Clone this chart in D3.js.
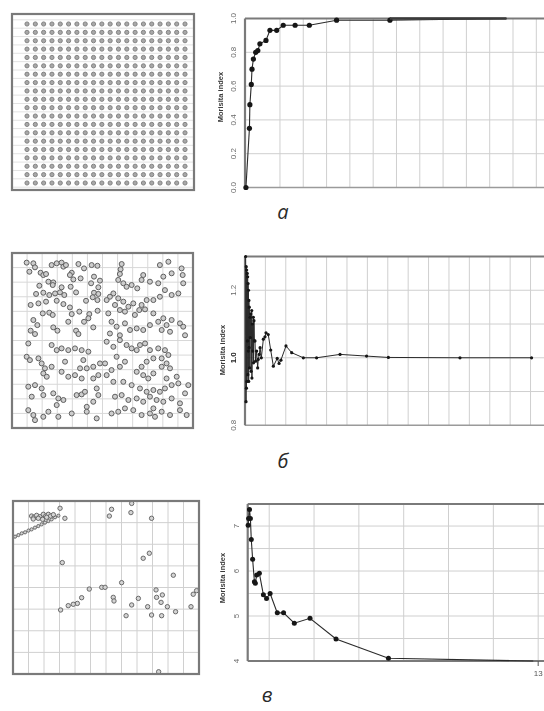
<!DOCTYPE html>
<html><head><meta charset="utf-8">
<script src="https://cdn.jsdelivr.net/npm/d3@7"></script>
<style>body{margin:0;background:#fff}svg{display:block}</style>
</head><body>
<svg id="c" width="544" height="711"></svg>
<script>
// ---------- DATA ----------
// a) regular lattice (column / row indices)
const latticeCols = d3.range(1, 21);
const latticeRows = d3.range(1, 21);
// a) Morisita index curve
const morisitaAX = [0.04,0.19,0.21,0.27,0.30,0.36,0.46,0.55,0.64,0.90,1.07,1.36,1.64,2.15,2.76,3.93,6.22,11.22];
const morisitaAY = [0.00,0.35,0.49,0.61,0.70,0.76,0.80,0.81,0.85,0.87,0.93,0.93,0.96,0.96,0.96,0.99,0.99,1.00];
// b) random pattern points (field units 0..100)
const randomPoints = [
[8.1,5.5],[11.8,5.9],[12.7,8.2],[21.9,6.9],[24.7,5.9],[27.4,5.5],[28.4,7.8],[29.8,6.9],[33.0,11.3],[36.7,6.3],[39.8,8.8],[44.0,6.9],[47.2,7.3],[9.6,10.7],[15.8,11.3],[17.3,12.6],[18.8,12.0],[20.1,16.4],[22.8,16.8],[32.0,12.6],[33.9,15.1],[37.9,14.5],[45.3,13.5],[48.6,15.8],[15.1,18.7],[22.5,18.3],[27.4,19.6],[32.4,19.3],[43.7,17.3],[47.7,19.6],[13.3,23.4],[17.3,22.7],[20.6,24.0],[23.8,23.1],[26.5,22.5],[28.9,24.0],[35.4,22.5],[45.3,22.7],[47.7,23.4],[10.3,29.7],[14.6,28.8],[18.8,27.8],[24.7,27.3],[28.4,29.2],[32.0,31.1],[40.9,27.3],[44.6,25.3],[47.2,26.9],[17.0,34.5],[20.6,34.1],[22.5,35.4],[33.0,34.9],[37.2,33.5],[42.7,34.9],[47.3,33.0],[11.8,38.3],[14.0,41.2],[10.3,44.4],[12.7,46.3],[22.8,42.5],[25.1,44.4],[31.1,39.3],[35.4,44.4],[39.8,39.3],[42.2,37.3],[44.9,42.5],[36.7,46.3],
[60.6,6.3],[60.0,9.3],[59.6,12.0],[58.7,15.4],[61.5,17.3],[63.3,19.3],[66.1,18.3],[69.2,20.2],[71.6,15.4],[72.5,12.6],[76.2,16.4],[80.8,17.3],[81.7,6.9],[86.4,5.0],[83.6,13.5],[88.2,11.6],[93.7,8.8],[94.3,12.6],[94.6,17.3],[91.9,23.1],[88.2,24.0],[84.5,21.2],[81.7,25.0],[78.1,26.9],[74.4,26.9],[71.6,29.7],[70.3,32.6],[67.0,28.8],[64.3,30.7],[61.5,27.8],[58.7,25.9],[56.0,23.1],[54.1,25.0],[52.3,26.9],[56.9,29.7],[59.6,32.6],[62.4,33.5],[67.9,35.4],[73.5,32.2],[78.1,34.5],[80.8,39.3],[83.6,37.3],[85.4,41.2],[88.2,38.3],[92.8,40.2],[94.6,42.1],[76.2,41.2],[72.5,44.0],[68.9,43.1],[65.2,44.0],[62.4,40.2],[57.8,42.1],[55.0,39.3],[53.2,34.5],[54.1,46.0],[59.6,47.0],[82.7,44.0],[87.3,45.0],[95.6,47.0],
[9.0,51.7],[8.1,59.3],[9.9,61.2],[14.6,60.2],[16.4,63.1],[18.2,65.9],[17.3,68.8],[19.2,70.7],[21.9,65.0],[24.7,55.5],[27.4,54.5],[31.1,55.5],[34.8,54.5],[38.5,55.5],[42.2,56.4],[39.4,61.2],[37.6,65.9],[41.3,65.9],[44.9,65.0],[48.6,63.1],[29.3,62.1],[27.4,67.9],[31.1,70.7],[34.8,69.8],[38.5,71.7],[44.9,71.7],[47.7,69.8],[9.0,76.4],[12.7,75.5],[16.4,77.4],[10.9,82.1],[17.3,81.2],[22.8,80.2],[25.6,83.1],[28.4,84.0],[24.7,86.9],[35.7,81.2],[38.5,80.8],[40.3,79.3],[46.8,77.4],[47.7,81.2],[44.9,85.0],[9.0,89.8],[11.8,92.6],[12.7,95.5],[17.3,93.6],[20.1,90.7],[25.6,93.6],[33.0,91.7],[41.3,87.9],[41.3,90.7],[46.8,94.5],[21.9,52.6],
[52.3,50.7],[56.0,53.6],[59.6,49.8],[63.3,52.6],[66.1,54.5],[68.9,55.5],[70.7,52.6],[73.5,51.7],[76.2,55.5],[80.8,54.5],[84.5,55.5],[86.4,58.3],[82.7,60.2],[78.1,60.2],[74.4,62.1],[71.6,65.0],[68.9,67.9],[72.5,69.8],[75.3,71.7],[78.1,68.8],[82.7,65.0],[85.4,63.1],[87.3,65.9],[85.4,71.7],[91.0,70.7],[91.9,74.5],[88.2,75.5],[84.5,77.4],[81.7,79.3],[78.1,78.3],[74.4,79.3],[70.7,77.4],[66.1,75.5],[61.5,73.6],[56.0,73.6],[52.3,69.8],[55.0,66.9],[59.6,65.0],[62.4,62.1],[57.8,59.3],[51.4,63.1],[56.9,82.1],[60.6,81.2],[64.3,84.0],[68.9,83.1],[72.5,85.0],[76.2,82.1],[79.9,84.0],[83.6,85.0],[88.2,83.1],[92.8,85.9],[95.6,80.2],[97.4,75.5],[55.0,91.7],[58.7,90.7],[62.4,88.8],[67.0,89.8],[71.6,92.6],[76.2,91.7],[78.1,88.8],[79.0,93.6],[82.7,90.7],[87.3,92.6],[92.8,89.8],[96.5,92.6]
];
// b) Morisita index curve
const morisitaBX = [0.03,0.05,0.06,0.07,0.08,0.10,0.11,0.12,0.13,0.14,0.15,0.16,0.17,0.18,0.19,0.20,0.21,0.23,0.25,0.26,0.28,0.30,0.33,0.34,0.36,0.38,0.41,0.42,0.44,0.46,0.49,0.52,0.57,0.62,0.65,0.70,0.74,0.80,0.90,0.98,1.03,1.14,1.26,1.39,1.58,1.67,1.76,2.01,2.29,2.86,3.51,4.66,5.96,7.03,10.54,14.05];
const morisitaBY = [1.30,0.87,1.27,0.91,1.26,0.93,1.25,1.05,1.24,0.95,1.22,1.02,1.20,0.93,1.17,1.03,1.15,0.97,1.12,1.06,1.13,0.96,1.14,0.94,1.10,1.02,1.12,0.985,1.11,1.05,1.05,0.99,1.02,0.97,0.995,1.01,1.03,1.00,1.055,1.062,1.074,1.069,1.023,0.975,0.998,0.983,0.993,1.035,1.015,1.0,1.0,1.01,1.005,1.001,1.0,1.0];
// c) clustered pattern points (field units 0..100); first 14 form the thin diagonal trail
const clusterPoints = [
[1.1,20.6],[2.9,19.7],[4.7,18.7],[6.5,18.1],[8.3,17.1],[10.0,16.4],[11.8,15.4],[13.6,14.5],[15.4,13.5],[17.2,12.5],[19.0,11.6],[20.8,10.6],[22.6,9.4],[24.4,8.5],
[10.0,8.7],[11.3,9.4],[12.7,8.3],[14.5,9.1],[16.3,7.7],[17.6,8.7],[19.0,7.7],[20.2,8.7],[21.7,7.9],[10.9,10.4],[13.6,10.0],[18.1,9.4],[15.9,10.6],
[25.3,4.2],[27.9,10.0],[53.0,4.8],[51.8,8.7],[63.8,1.4],[63.4,6.7],[74.5,10.0],[70.0,33.1],[73.3,30.2],[26.5,35.6],[86.2,42.9],[58.4,47.2],[41.0,50.9],[47.7,49.9],[49.5,49.9],[36.9,55.9],[34.6,59.2],[32.4,59.7],[29.7,60.5],[25.6,63.0],[53.9,55.7],[54.3,57.8],[67.4,56.3],[63.8,60.1],[60.8,66.3],[72.4,61.1],[74.5,65.9],[76.9,51.4],[77.2,55.7],[80.3,54.3],[79.6,58.6],[83.0,61.1],[79.9,66.3],[87.4,64.0],[95.7,61.1],[96.9,53.9],[98.7,51.8],[78.3,98.7]
];
// c) Morisita index curve
const morisitaCX = [6.53,6.54,6.56,6.58,6.60,6.63,6.67,6.69,6.72,6.78,6.87,6.94,7.02,7.18,7.32,7.56,7.91,8.49,9.66,12.89];
const morisitaCY = [7.02,7.17,7.37,7.17,6.70,6.26,5.76,5.73,5.91,5.95,5.47,5.39,5.50,5.07,5.07,4.84,4.95,4.49,4.06,4.00];
// tick labels
const ticksA = [0,0.2,0.4,0.6,0.8,1.0];
const ticksB = [0.8,1.0,1.2];
const ticksC = [4,5,6,7];
const panelLetters = ["а","б","в"];
const yTitle = "Morisita index";

// ---------- DRAW ----------
const svg = d3.select("#c");
const defs = svg.append("defs");
defs.append("filter").attr("id","soft").attr("x","-5%").attr("y","-5%").attr("width","110%").attr("height","110%")
  .append("feGaussianBlur").attr("stdDeviation",0.45);
const root = svg.append("g").attr("filter","url(#soft)");

const GRID = "#cfcfcf", FRAME = "#7a7a7a";

function fieldPanel(box, xs, ys, vg, hg, pts, style){
  const g = root.append("g");
  g.selectAll(".vg").data(vg).join("line")
    .attr("x1",d=>xs(d)).attr("x2",d=>xs(d)).attr("y1",box[1]).attr("y2",box[3])
    .attr("stroke",style.grid).attr("stroke-width",1);
  g.selectAll(".hg").data(hg).join("line")
    .attr("y1",d=>ys(d)).attr("y2",d=>ys(d)).attr("x1",box[0]).attr("x2",box[2])
    .attr("stroke",style.grid).attr("stroke-width",1);
  g.selectAll("circle").data(pts).join("circle")
    .attr("cx",d=>xs(d[0])).attr("cy",d=>ys(d[1])).attr("r",(d,i)=>typeof style.r==="function"?style.r(i):style.r)
    .attr("fill",style.fill).attr("stroke",style.stroke).attr("stroke-width",style.sw);
  g.append("rect").attr("x",box[0]).attr("y",box[1]).attr("width",box[2]-box[0]).attr("height",box[3]-box[1])
    .attr("fill","none").attr("stroke",FRAME).attr("stroke-width",2.2);
}

// a) lattice
{
  const box=[12,14,194,190];
  const xs=d3.scaleLinear().domain([1,20]).range([27,185]);
  const ys=d3.scaleLinear().domain([1,20]).range([24,183]);
  const pts=[]; latticeRows.forEach(r=>latticeCols.forEach(c=>pts.push([c,r])));
  fieldPanel(box,xs,ys,[],d3.range(0.5,21,1).filter(v=>ys(v)>box[1]&&ys(v)<box[3]),pts,
    {grid:"#e2e2e2",r:2.1,fill:"#a8a8a8",stroke:"#7c7c7c",sw:0.9});
}
// b) random
{
  const box=[12,253,193,428];
  const xs=d3.scaleLinear().domain([0,100]).range([box[0],box[2]]);
  const ys=d3.scaleLinear().domain([0,100]).range([box[1],box[3]]);
  const div=d3.range(1,12).map(i=>i*100/12);
  fieldPanel(box,xs,ys,div,div,randomPoints,{grid:"#d8d8d8",r:2.5,fill:"#cdcdcd",stroke:"#5e5e5e",sw:1});
}
// c) clustered
{
  const box=[13,501,199,674];
  const xs=d3.scaleLinear().domain([0,100]).range([box[0],box[2]]);
  const ys=d3.scaleLinear().domain([0,100]).range([box[1],box[3]]);
  fieldPanel(box,xs,ys,d3.range(1,12).map(i=>i*100/12),d3.range(1,8).map(i=>i*100/8),clusterPoints,
    {grid:"#d0d0d0",r:i=>i<14?1.6:2.2,fill:"#d4d4d4",stroke:"#5e5e5e",sw:0.9});
}

function morisita(cfg){
  const g = root.append("g");
  const xs=d3.scaleLinear().domain(cfg.xd).range([cfg.x0,544]);
  const ys=d3.scaleLinear().domain(cfg.yd).range([cfg.y0,cfg.y1]);
  g.selectAll(".vg").data(cfg.vg).join("line")
    .attr("x1",d=>xs(d)).attr("x2",d=>xs(d)).attr("y1",cfg.y0).attr("y2",cfg.y1)
    .attr("stroke",GRID).attr("stroke-width",1);
  g.selectAll(".hg").data(cfg.hg).join("line")
    .attr("y1",d=>ys(d)).attr("y2",d=>ys(d)).attr("x1",cfg.x0).attr("x2",544)
    .attr("stroke",GRID).attr("stroke-width",1);
  g.append("line").attr("x1",cfg.x0).attr("x2",544).attr("y1",cfg.y1).attr("y2",cfg.y1).attr("stroke",FRAME).attr("stroke-width",2.2);
  g.append("line").attr("x1",cfg.x0).attr("x2",544).attr("y1",cfg.y0).attr("y2",cfg.y0).attr("stroke",cfg.bottomColor).attr("stroke-width",cfg.bottomW);
  g.append("line").attr("x1",cfg.x0).attr("x2",cfg.x0).attr("y1",cfg.y1).attr("y2",cfg.y0).attr("stroke",FRAME).attr("stroke-width",2.2);
  g.selectAll(".tl").data(cfg.ticks).join("text")
    .attr("transform",d=>`translate(${cfg.x0-9},${ys(d)}) rotate(-90)`)
    .attr("text-anchor","middle").attr("font-family","Liberation Sans, Arial, sans-serif")
    .attr("font-size",8).attr("fill",d=>cfg.strong===d?"#222":"#6a6a6a")
    .attr("font-weight",d=>cfg.strong===d?"bold":"normal").text(cfg.fmt);
  g.append("text").attr("transform",`translate(${cfg.tx},${cfg.ty}) rotate(-90)`)
    .attr("text-anchor","middle").attr("font-family","Liberation Sans, Arial, sans-serif")
    .attr("font-weight","bold").attr("font-size",7.5).attr("fill","#3a3a3a").text(yTitle);
  const pts=cfg.X.map((x,i)=>[x,cfg.Y[i]]);
  g.append("path").datum(pts).attr("fill","none").attr("stroke","#2a2a2a").attr("stroke-width",cfg.lw||1.1)
    .attr("d",d3.line().x(d=>xs(d[0])).y(d=>ys(d[1])));
  g.selectAll(".pt").data(pts.slice(0,cfg.marked)).join("circle")
    .attr("cx",d=>xs(d[0])).attr("cy",d=>ys(d[1])).attr("r",cfg.r).attr("fill","#151515");
  return {g,xs,ys};
}

// a
{
  const m = morisita({xd:[0,12.83],yd:[0,1],x0:245,y0:187.5,y1:18.5,vg:d3.range(1.5,13,1),hg:[0.2,0.4,0.6,0.8],
    ticks:ticksA,fmt:d3.format(".1f"),tx:223,ty:97,X:morisitaAX,Y:morisitaAY,marked:morisitaAX.length-1,r:2.6,
    bottomColor:"#9a9a9a",bottomW:1.5});
  const n=morisitaAX.length;
  m.g.append("line").attr("x1",m.xs(morisitaAX[n-2])).attr("x2",m.xs(morisitaAX[n-1]))
    .attr("y1",m.ys(1)).attr("y2",m.ys(1)).attr("stroke","#3a3a3a").attr("stroke-width",2.4);
}
// b
morisita({xd:[0,14.66],yd:[0.8,1.3],x0:245,y0:425.3,y1:256.5,vg:d3.range(1,15),hg:[0.9,1.0,1.1,1.2],
  ticks:ticksB,fmt:d3.format(".1f"),tx:225,ty:350,X:morisitaBX,Y:morisitaBY,marked:morisitaBX.length,r:1.6,lw:1,
  bottomColor:"#9a9a9a",bottomW:1.5,strong:1.0});
// c
{
  const m = morisita({xd:[6.52,13.13],yd:[4,7.49],x0:247.7,y0:661,y1:504,vg:d3.range(7,14),hg:d3.range(4.5,7.01,0.5),
    ticks:ticksC,fmt:d3.format("d"),tx:225,ty:578,X:morisitaCX,Y:morisitaCY,marked:morisitaCX.length-1,r:2.5,
    bottomColor:FRAME,bottomW:2.2});
  m.g.append("line").attr("x1",m.xs(13)).attr("x2",m.xs(13)).attr("y1",661).attr("y2",666).attr("stroke","#555");
  m.g.append("text").attr("x",m.xs(13)).attr("y",676).attr("text-anchor","middle")
    .attr("font-family","Liberation Sans, Arial, sans-serif").attr("font-size",8).attr("fill","#555").text("13");
}

// panel letters
const letterPos=[[283,219],[283,468],[267,702]];
svg.selectAll(".letter").data(panelLetters).join("text")
  .attr("x",(d,i)=>letterPos[i][0]).attr("y",(d,i)=>letterPos[i][1])
  .attr("text-anchor","middle").attr("font-family","Open Sans, Noto Sans, sans-serif")
  .attr("font-style","italic").attr("font-size",20).attr("fill","#2a2a2a").text(d=>d);
</script>
</body></html>
